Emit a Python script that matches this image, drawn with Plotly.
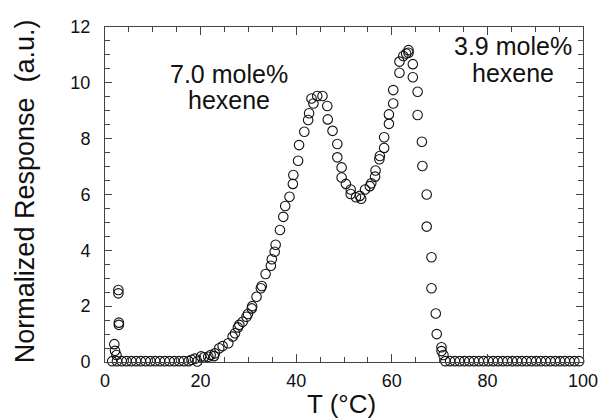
import plotly.graph_objects as go

# Low-temperature spikes
T_low = [1.95, 2.1, 2.4, 2.8, 2.8, 2.9, 2.9]
R_low = [0.64, 0.40, 0.25, 2.58, 2.46, 1.41, 1.33]

# Baseline before elution
T_base1 = [1.5, 2.5, 3.5, 4.5, 5.5, 6.5, 7.5, 8.5, 9.5, 10.5, 11.5, 12.5, 13.5, 14.5, 15.5, 16.5, 17.5]
R_base1 = [0.03] * len(T_base1)

# Main elution curve
T_main = [18.1, 18.8, 19.3, 20.1, 20.7, 21.6, 22.1, 22.8, 23.0, 23.9, 24.6, 25.8, 26.7, 27.2, 27.8,
          28.1, 28.8, 29.6, 29.9, 30.7, 30.8, 31.7, 32.6, 32.8, 33.6, 34.7, 34.9, 35.5, 35.7, 36.6,
          37.3, 37.7, 38.6, 39.3, 39.4, 40.4, 40.6, 41.7, 42.5, 42.7, 43.2, 43.6, 44.4, 45.5, 46.5,
          46.6, 47.6, 48.6, 48.6, 49.5, 49.5, 50.4, 51.4, 51.4, 52.5, 53.3, 53.6, 54.4, 55.4, 55.7,
          56.5, 56.6, 57.4, 57.5, 58.4, 58.4, 59.4, 59.4, 60.3, 60.3, 61.6, 61.6, 62.4, 63.0, 63.5,
          63.5, 64.4, 64.4, 65.4, 65.4, 66.3, 66.4, 67.3, 67.3, 68.3, 68.3, 69.2, 69.4, 70.4, 70.4, 70.8]
R_main = [0.08, 0.12, 0.02, 0.20, 0.17, 0.19, 0.25, 0.21, 0.31, 0.49, 0.57, 0.67, 0.91, 1.03, 1.24,
          1.33, 1.44, 1.62, 1.72, 1.92, 2.00, 2.34, 2.64, 2.72, 3.15, 3.45, 3.68, 3.95, 4.20, 4.73,
          5.20, 5.59, 5.92, 6.38, 6.70, 7.21, 7.77, 8.25, 8.67, 8.91, 9.44, 9.26, 9.53, 9.53, 9.17,
          8.69, 8.28, 7.81, 7.33, 6.97, 6.61, 6.38, 6.18, 6.02, 5.90, 5.95, 5.85, 6.18, 6.30, 6.40,
          6.64, 6.86, 7.26, 7.38, 7.67, 8.05, 8.53, 8.87, 9.26, 9.74, 10.36, 10.76, 10.96, 11.05, 11.17,
          11.08, 10.67, 10.20, 9.68, 8.85, 7.89, 7.02, 6.00, 4.85, 3.75, 2.64, 1.74, 1.00, 0.53, 0.39, 0.25]

# Baseline after elution
T_base2 = [71.2 + i for i in range(29)]
R_base2 = [0.03] * len(T_base2)

T = T_low + T_base1 + T_main + T_base2
R = R_low + R_base1 + R_main + R_base2

x_ticks = [0, 20, 40, 60, 80, 100]
y_ticks = [0, 2, 4, 6, 8, 10, 12]

FONT = "Liberation Sans, Arial, Helvetica, sans-serif"
INK = "#111111"

fig = go.Figure()
fig.add_trace(go.Scatter(
    x=T, y=R, mode="markers", cliponaxis=False,
    marker=dict(symbol="circle-open", size=9.5, color=INK, line=dict(width=1.1, color=INK)),
    showlegend=False,
))

axis_common = dict(
    showgrid=False, zeroline=False, showline=True, linecolor="#444", linewidth=1,
    mirror="allticks", ticks="inside", tickcolor="#444", tickwidth=1,
    tickfont=dict(family=FONT, size=18, color=INK), automargin=False,
)

fig.update_xaxes(range=[0, 100], tickvals=x_ticks, ticklen=8,
                 minor=dict(dtick=5, ticks="inside", ticklen=5, tickcolor="#444", showgrid=False),
                 ticklabelstandoff=2, **axis_common)
fig.update_yaxes(range=[0, 12], tickvals=y_ticks, ticklen=7,
                 minor=dict(dtick=0.5, ticks="inside", ticklen=5, tickcolor="#444", showgrid=False),
                 ticklabelstandoff=10, **axis_common)

ann_font = dict(family=FONT, size=25, color=INK)
fig.add_annotation(x=26.0, y=10.3, xref="x", yref="y", text="7.0 mole%", showarrow=False, font=ann_font)
fig.add_annotation(x=26.0, y=9.4, xref="x", yref="y", text="hexene", showarrow=False, font=ann_font)
fig.add_annotation(x=85.4, y=11.32, xref="x", yref="y", text="3.9 mole%", showarrow=False, font=ann_font)
fig.add_annotation(x=85.4, y=10.35, xref="x", yref="y", text="hexene", showarrow=False, font=ann_font)

# Axis titles
fig.add_annotation(x=-80/478, y=0.51, xref="paper", yref="paper", text="Normalized Response  (a.u.)",
                   textangle=-90, showarrow=False, xanchor="center", yanchor="middle",
                   font=dict(family=FONT, size=27, color=INK))
fig.add_annotation(x=0.495, y=-42/335, xref="paper", yref="paper", text="T (°C)",
                   showarrow=False, xanchor="center", yanchor="middle",
                   font=dict(family=FONT, size=26, color=INK))

fig.update_layout(
    width=599, height=420,
    margin=dict(l=105, r=16, t=27, b=58, autoexpand=False),
    paper_bgcolor="white", plot_bgcolor="white",
)

fig.write_html("out.html")
